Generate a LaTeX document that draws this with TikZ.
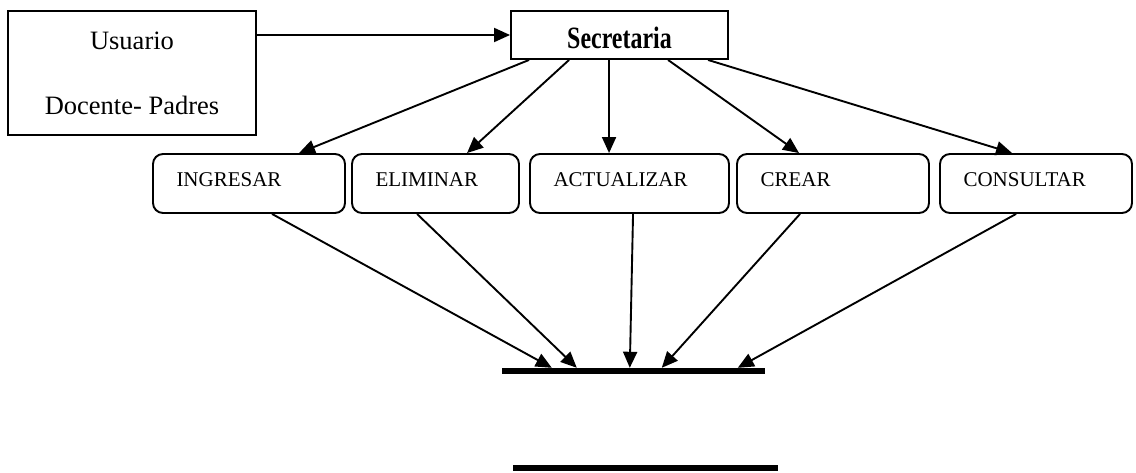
\documentclass[tikz,border=0pt]{standalone}
\usepackage{fontspec}
\usepackage{graphicx}
\setmainfont{Liberation Serif}
\usetikzlibrary{arrows.meta}

\tikzset{
  plainbox/.style={draw, line width=1.9pt, inner sep=0pt},
  opbox/.style={draw, line width=1.9pt, rounded corners=10pt, inner xsep=23.5pt,
    inner ysep=0pt, minimum height=59pt, align=left, text height=14pt, text depth=7pt,
    font=\fontsize{21}{21}\selectfont},
  bar/.style={fill=black, draw=none, inner sep=0pt, minimum height=6pt},
  arr/.style={-{Triangle[length=16pt,width=14pt]}, line width=1.9pt},
}

\begin{document}
\begin{tikzpicture}[x=1pt, y=-1pt]
  \useasboundingbox (0,0) rectangle (1136,473);

  % top row: user box and secretary
  \node[plainbox, minimum width=248pt, minimum height=124pt, align=center,
        font=\fontsize{26.5}{65}\selectfont] (usu) at (132,73)
        {Usuario\\Docente- Padres};
  \node[plainbox, minimum width=217pt, minimum height=48pt, text height=28pt, text depth=0pt]
        (sec) at (619.5,35)
        {\scalebox{0.772}[1]{\fontsize{31}{31}\selectfont\bfseries Secretaria}};

  % operations
  \node[opbox, text width=145pt] (ing) at (249,183.5)   {INGRESAR};
  \node[opbox, text width=120pt] (eli) at (435.5,183.5) {ELIMINAR};
  \node[opbox, text width=152pt] (act) at (629.5,183.5) {ACTUALIZAR};
  \node[opbox, text width=145pt] (cre) at (833,183.5)   {CREAR};
  \node[opbox, text width=145pt] (con) at (1036,183.5)  {CONSULTAR};

  % data store bars
  \node[bar, minimum width=263pt] (bar1) at (633.5,371) {};
  \node[bar, minimum width=265pt] (bar2) at (645.5,468) {};

  % connectors
  \draw[arr] (usu.east |- sec.west) -- (sec.west);

  \draw[arr] ([xshift=19pt]sec.south west)  -- ([xshift=147pt]ing.north west);
  \draw[arr] ([xshift=59pt]sec.south west)  -- ([xshift=116pt]eli.north west);
  \draw[arr] ([xshift=99pt]sec.south west)  -- ([xshift=80pt]act.north west);
  \draw[arr] ([xshift=158pt]sec.south west) -- ([xshift=63pt]cre.north west);
  \draw[arr] ([xshift=198pt]sec.south west) -- ([xshift=73pt]con.north west);

  \draw[arr] ([xshift=120pt]ing.south west) -- ([xshift=50pt]bar1.north west);
  \draw[arr] ([xshift=66pt]eli.south west)  -- ([xshift=75pt]bar1.north west);
  \draw[arr] ([xshift=104pt]act.south west) -- ([xshift=128pt]bar1.north west);
  \draw[arr] ([xshift=64pt]cre.south west)  -- ([xshift=160pt]bar1.north west);
  \draw[arr] ([xshift=77pt]con.south west)  -- ([xshift=236pt]bar1.north west);
\end{tikzpicture}
\end{document}
